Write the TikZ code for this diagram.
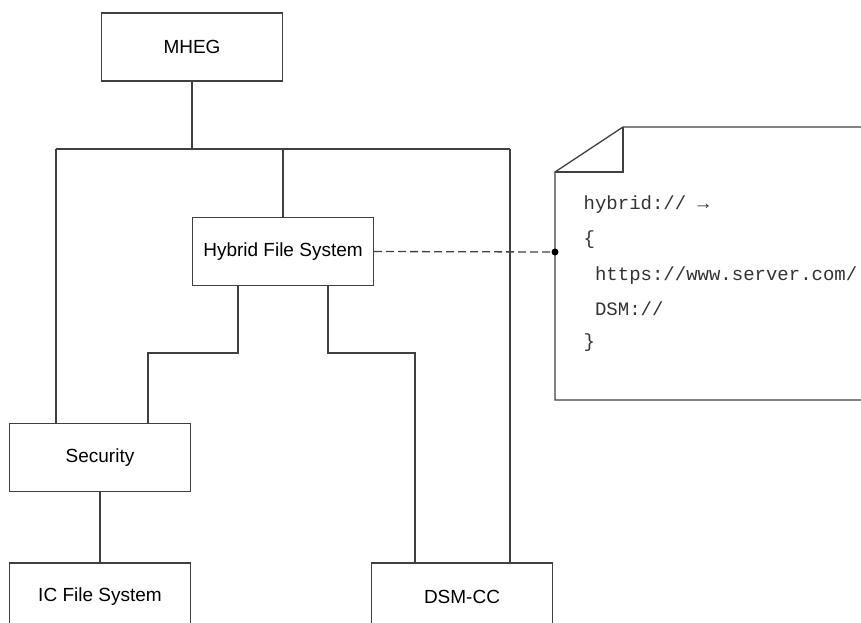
\documentclass[tikz,border=0pt]{standalone}
\usepackage{fontspec}
\setmainfont{Liberation Sans}
\setmonofont{Liberation Mono}
\usepackage{xcolor}
\usetikzlibrary{calc}
\definecolor{linegray}{HTML}{404040}
\definecolor{textgray}{HTML}{333333}

\begin{document}
\begin{tikzpicture}[x=1pt,y=-1pt,font=\fontsize{19}{21}\selectfont,
  line width=1.3pt,draw=linegray,
  unit/.style={draw=linegray,fill=white,minimum width=181,minimum height=68,inner sep=0pt},
  link/.style={draw=linegray},
  ref/.style={draw=linegray,dash pattern=on 8pt off 4pt},
  code/.style={anchor=west,inner sep=0pt,text=textgray,font=\ttfamily\fontsize{19}{21}\selectfont}]
  \useasboundingbox (0,0) rectangle (861,622);
  \clip (0,0) rectangle (861,622);
  % boxes
  \node[unit] (mheg) at (192,47) {MHEG};
  \node[unit] (hfs) at (283,251.5) {Hybrid File System};
  \node[unit] (sec) at (100,457.5) {Security};
  \node[unit] (ic) at (100,597) {IC File System};
  \node[unit] (dsm) at (462,597) {DSM-CC};
  % bus and links
  \coordinate (busL) at (56,149);
  \coordinate (busR) at (510,149);
  \coordinate (kl) at (148,353);
  \coordinate (kr) at (415,353);
  \draw[link] (mheg.south) -- (mheg.south |- busL);
  \draw[link] (busL) -- (busR);
  \draw[link] (busL) -- (busL |- sec.north);
  \draw[link] (hfs.north) -- (hfs.north |- busL);
  \draw[link] (busR) -- (busR |- dsm.north);
  \draw[link] ([xshift=-45]hfs.south) |- (kl) -- (kl |- sec.north);
  \draw[link] ([xshift=45]hfs.south) |- (kr) -- (kr |- dsm.north);
  \draw[link] (sec.south) -- (ic.north);
  % note with folded corner
  \draw[link] (875,127) -- (623,127) -- (555,172) -- (555,400) -- (875,400);
  \draw[link] (623,127) -- (623,172) -- (555,172);
  \coordinate (pin) at (555,252);
  \draw[ref] (hfs.east) -- (pin);
  \fill[black] (pin) circle (3.5);
  \node[code] (l1) at (583,205) {hybrid:// →};
  \node[code] (l2) at (583,240) {\{};
  \node[code] (l3) at (583,276) {\ https://www.server.com/};
  \node[code] (l4) at (583,309) {\ DSM://};
  \node[code] (l5) at (583,343) {\}};
\end{tikzpicture}
\end{document}
